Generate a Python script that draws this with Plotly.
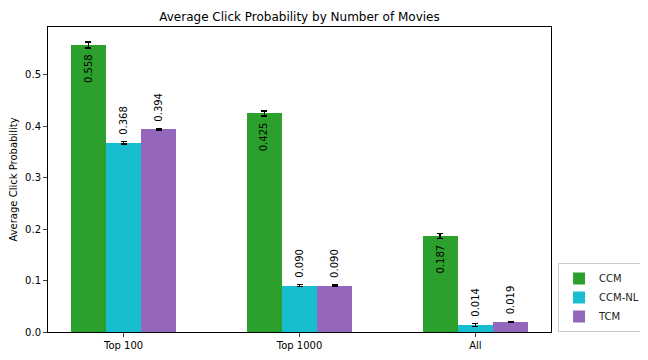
import plotly.graph_objects as go

groups = ["Top 100", "Top 1000", "All"]
models = ["CCM", "CCM-NL", "TCM"]
colors = ["#2ca02c", "#17becf", "#9467bd"]
values = {
    "CCM": [0.558, 0.425, 0.187],
    "CCM-NL": [0.368, 0.090, 0.014],
    "TCM": [0.394, 0.090, 0.019],
}
errors = {
    "CCM": [0.006, 0.005, 0.005],
    "CCM-NL": [0.002, 0.002, 0.003],
    "TCM": [0.001, 0.001, 0.001],
}

width = 0.2
fig = go.Figure()
annotations = []
for j, m in enumerate(models):
    xs = [i + (j - 1) * width for i in range(len(groups))]
    fig.add_trace(go.Bar(
        x=xs, y=values[m], width=width, name=m,
        marker=dict(color=colors[j], line=dict(width=0)),
        error_y=dict(type="data", array=errors[m], color="black", thickness=1.5, width=3),
    ))
    for x, v in zip(xs, values[m]):
        inside = (m == "CCM")
        annotations.append(dict(
            x=x, y=v, xref="x", yref="y", text=f"{v:.3f}", showarrow=False,
            textangle=-90, font=dict(size=10, color="black"),
            yanchor="top" if inside else "bottom",
            yshift=-7 if inside else 6,
        ))

# the page adds an 8px body margin, so everything is shifted up/left by 8px
fig.update_layout(
    width=648, height=360,
    margin=dict(l=40, r=105, t=19, b=36, autoexpand=False),
    paper_bgcolor="white", plot_bgcolor="white",
    font=dict(family="DejaVu Sans", size=10, color="black"),
    title=dict(text="Average Click Probability by Number of Movies", x=0.5, xref="paper",
               xanchor="center", y=0.975, yanchor="middle", font=dict(size=12)),
    showlegend=True,
    legend=dict(x=1.014, y=0, xanchor="left", yanchor="bottom", bordercolor="#cccccc",
                borderwidth=1, font=dict(size=10, color="#222222"), tracegroupgap=0,
                itemwidth=30),
    annotations=annotations,
    bargap=0,
)
fig.update_xaxes(
    range=[-0.43, 2.43], tickvals=[0, 1, 2], ticktext=groups, automargin=False,
    showline=True, linecolor="black", mirror=True, ticks="outside", ticklen=4,
    showgrid=False, zeroline=False,
)
fig.update_yaxes(
    range=[0, 0.593], tickvals=[0, 0.1, 0.2, 0.3, 0.4, 0.5], tickformat=".1f",
    automargin=False,
    title=dict(text="Average Click Probability", font=dict(size=10)),
    showline=True, linecolor="black", mirror=True, ticks="outside", ticklen=4,
    showgrid=False, zeroline=False,
)

fig.write_html("out.html")
